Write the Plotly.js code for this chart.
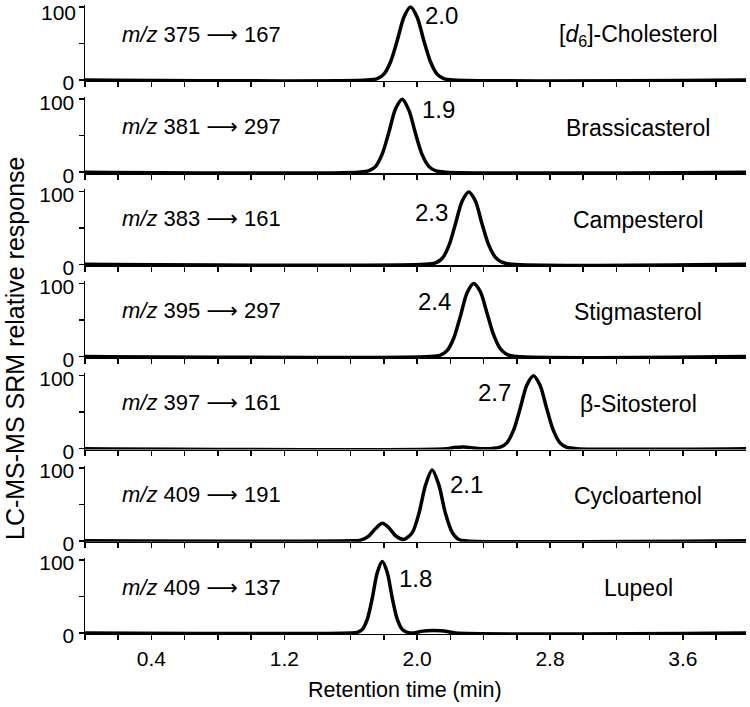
<!DOCTYPE html>
<html><head><meta charset="utf-8">
<script src="https://cdn.plot.ly/plotly-3.0.1.min.js"></script>
<style>html,body{margin:0;padding:0;background:#fff}</style>
</head><body><div id="chart" style="width:750px;height:707px"></div>
<script>
// ---- data ----
const compounds = ["[<i>d</i><sub>6</sub>]-Cholesterol", "Brassicasterol", "Campesterol", "Stigmasterol", "β-Sitosterol", "Cycloartenol", "Lupeol"];
const precursors = ["375", "381", "383", "395", "397", "409", "409"];
const products = ["167", "297", "161", "297", "161", "191", "137"];
const retentionLabels = ["2.0", "1.9", "2.3", "2.4", "2.7", "2.1", "1.8"];

const timeCholesterol = [0, 1.70, 1.76, 1.80, 1.84, 1.88, 1.92, 1.96, 2.00, 2.04, 2.08, 2.12, 2.16, 2.22, 3.98];
const respCholesterol = [0, 0, 2, 8, 25, 54, 86, 100, 86, 54, 25, 8, 2, 0, 0];
const timeBrassicasterol = [0, 1.65, 1.71, 1.75, 1.79, 1.83, 1.87, 1.91, 1.95, 1.99, 2.03, 2.07, 2.11, 2.17, 3.98];
const respBrassicasterol = [0, 0, 2, 8, 25, 55, 87, 100, 85, 53, 24, 8, 2, 0, 0];
const timeCampesterol = [0, 2.05, 2.11, 2.15, 2.19, 2.23, 2.27, 2.31, 2.35, 2.39, 2.43, 2.47, 2.51, 2.57, 3.98];
const respCampesterol = [0, 0, 2, 8, 25, 55, 86, 99, 87, 56, 27, 10, 3, 0, 0];
const timeStigmasterol = [0, 2.08, 2.14, 2.18, 2.22, 2.26, 2.30, 2.34, 2.38, 2.42, 2.46, 2.50, 2.54, 2.60, 3.98];
const respStigmasterol = [0, 0, 2, 8, 25, 55, 87, 100, 89, 60, 30, 11, 3, 0, 0];
const timeSitosterol = [0, 2.18, 2.22, 2.28, 2.34, 2.38, 2.44, 2.50, 2.54, 2.58, 2.62, 2.66, 2.70, 2.74, 2.78, 2.82, 2.86, 2.90, 2.96, 3.98];
const respSitosterol = [0, 0, 1.5, 2.5, 1, 0, 0, 2, 8, 25, 55, 87, 100, 87, 55, 25, 8, 2, 0, 0];
const timeCycloartenol = [0, 1.60, 1.66, 1.71, 1.75, 1.79, 1.83, 1.87, 1.92, 1.97, 2.01, 2.05, 2.09, 2.13, 2.17, 2.21, 2.25, 2.30, 3.98];
const respCycloartenol = [0, 0, 1, 7, 17, 24, 18, 7, 2, 11, 37, 76, 97, 77, 38, 12, 2, 0, 0];
const timeLupeol = [0, 1.60, 1.64, 1.67, 1.70, 1.73, 1.76, 1.79, 1.82, 1.85, 1.88, 1.91, 1.94, 1.98, 2.02, 2.06, 2.10, 2.14, 2.18, 2.23, 3.98];
const respLupeol = [0, 0, 1, 5, 19, 48, 83, 98, 83, 48, 19, 5, 1, 0, 2, 3, 3.5, 3, 2, 0, 0];

const xTickVals = [0, 0.2, 0.4, 0.6, 0.8, 1.0, 1.2, 1.4, 1.6, 1.8, 2.0, 2.2, 2.4, 2.6, 2.8, 3.0, 3.2, 3.4, 3.6, 3.8];
const xTickText = ["", "", "0.4", "", "", "", "1.2", "", "", "", "2.0", "", "", "", "2.8", "", "", "", "3.6", ""];
const yTickVals = [0, 50, 100];
const yTickText = ["0", "", "100"];

const times = [timeCholesterol, timeBrassicasterol, timeCampesterol, timeStigmasterol, timeSitosterol, timeCycloartenol, timeLupeol];
const resps = [respCholesterol, respBrassicasterol, respCampesterol, respStigmasterol, respSitosterol, respCycloartenol, respLupeol];

// ---- layout geometry ----
const H = 707;
const FONT = "Liberation Sans, Arial, sans-serif";
const tickSize = 21, annSize = 23, mzSize = 22, rtSize = 24;
const ARROW = "<span style='font-family:DejaVu Sans'>⟶</span>";
const rtPos = [[2.036, 89, "left"], [2.018, 86, "left"], [2.20, 71, "right"], [2.217, 76, "right"], [2.578, 77, "right"], [2.187, 77, "left"], [1.877, 75, "left"]];

const traces = [];
const layout = {
  width: 750, height: H,
  margin: {l: 85, r: 4, t: 0, b: 0},
  paper_bgcolor: "#fff", plot_bgcolor: "#fff",
  showlegend: false,
  font: {family: FONT, size: tickSize, color: "#000"},
  annotations: []
};

for (let k = 0; k < 7; k++) {
  const s = k === 0 ? "" : String(k + 1);
  const zeroPx = 80 + 92.17 * k;
  const topPx = zeroPx - 75.2;
  traces.push({
    x: times[k], y: resps[k], type: "scatter", mode: "lines",
    line: {color: "#000", width: 3.5, shape: "spline", smoothing: 0.8},
    xaxis: "x" + s, yaxis: "y" + s, hoverinfo: "skip"
  });
  layout["xaxis" + s] = {
    domain: [0, 1], anchor: "y" + s, range: [0, 3.98],
    matches: k === 0 ? undefined : "x",
    showgrid: false, zeroline: false, showline: true, linecolor: "#000", linewidth: 1.5,
    ticks: "outside", ticklen: 5, tickwidth: 1.5, tickcolor: "#000",
    tickmode: "array", tickvals: xTickVals, ticktext: k === 6 ? xTickText : xTickVals.map(() => ""),
    showticklabels: k === 6,
    tickfont: {family: FONT, size: tickSize, color: "#000"}
  };
  layout["yaxis" + s] = {
    domain: [1 - (zeroPx + 0.9) / H, 1 - topPx / H], anchor: "x" + s, range: [-1.2, 103],
    showgrid: false, zeroline: false, showline: true, linecolor: "#000", linewidth: 1.5,
    ticks: "outside", ticklen: 5, tickwidth: 1.5, tickcolor: "#000",
    tickmode: "array", tickvals: yTickVals, ticktext: k === 0 ? ["0", "", ""] : yTickText,
    ticklabelshift: 3,
    tickfont: {family: FONT, size: tickSize, color: "#000"}
  };
  layout.annotations.push({
    xref: "x" + s, yref: "y" + s, x: 0.21, y: 63,
    text: "<i>m/z</i> " + precursors[k] + " " + ARROW + " " + products[k],
    showarrow: false, xanchor: "left", yanchor: "middle", font: {family: FONT, size: mzSize, color: "#000"}
  });
  layout.annotations.push({
    xref: "x" + s, yref: "y" + s, x: 3.33, y: 61, text: compounds[k],
    showarrow: false, xanchor: "center", yanchor: "middle", font: {family: FONT, size: annSize, color: "#000"}
  });
  layout.annotations.push({
    xref: "x" + s, yref: "y" + s, x: rtPos[k][0], y: rtPos[k][1], text: retentionLabels[k],
    showarrow: false, xanchor: rtPos[k][2], yanchor: "middle", font: {family: FONT, size: rtSize, color: "#000"}
  });
}
// top panel "100" label (sits slightly lower than its tick, as in the reference)
layout.annotations.push({
  xref: "paper", yref: "paper", x: (78 - 85) / 661, y: 1 - 13 / H, text: yTickText[2],
  showarrow: false, xanchor: "right", yanchor: "middle", font: {family: FONT, size: tickSize, color: "#000"}
});
layout.annotations.push({
  xref: "paper", yref: "paper", x: (405 - 85) / 661, y: 1 - 690 / H, text: "Retention time (min)",
  showarrow: false, xanchor: "center", yanchor: "middle", font: {family: FONT, size: 21.5, color: "#000"}
});
layout.annotations.push({
  xref: "paper", yref: "paper", x: (15 - 85) / 661, y: 1 - 349 / H, text: "LC-MS-MS SRM relative response",
  showarrow: false, xanchor: "center", yanchor: "middle", textangle: -90, font: {family: FONT, size: 25, color: "#000"}
});

Plotly.newPlot("chart", traces, layout, {displayModeBar: false, staticPlot: true});
</script></body></html>
